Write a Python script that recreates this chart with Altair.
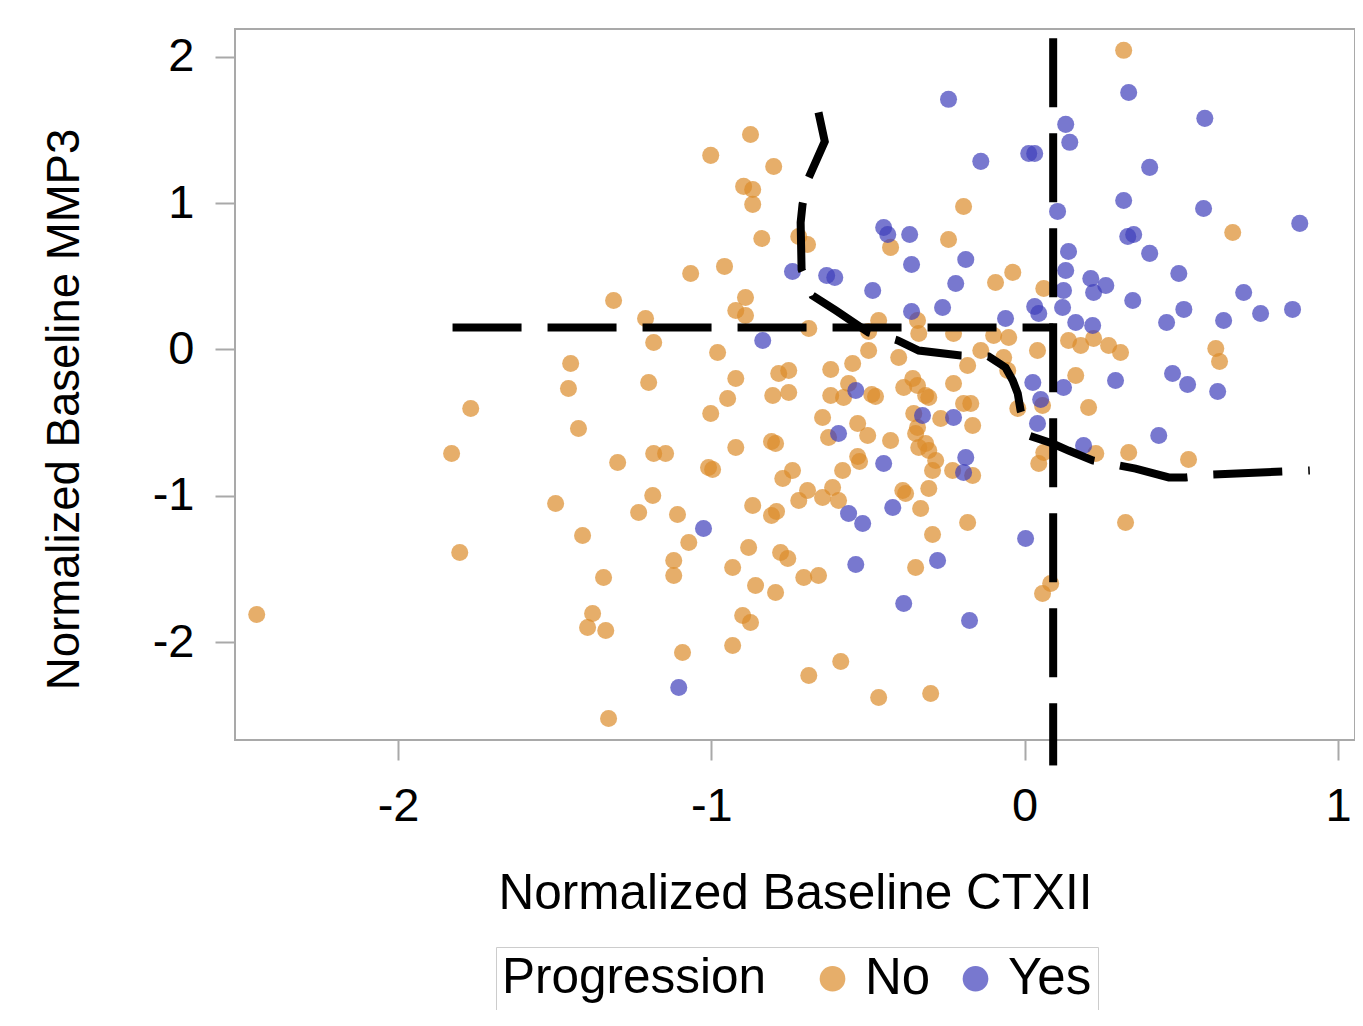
import altair as alt
import pandas as pd

# Progression = No (orange)
no_x = [-2.451, -1.829, -1.768, -1.803, -0.875, -1.002, -0.801, -0.897, -0.868, -0.868,
        -0.839, -0.721, -0.693, -0.958, -1.066, -1.312, -0.891, -0.922, -0.891, -1.210,
        -0.689, -1.184, -0.980, -1.449, -1.456, -1.200, -0.922, -0.785, -0.753, -0.804,
        -0.753, -0.619, -0.619, -0.948, -1.002, -1.424, -0.645, -0.626, -0.922, -0.808,
        -0.795, -1.184, -1.146, -1.299, -1.009, -0.996, -0.741, -0.772, -0.693, -0.721,
        -0.645, -0.613, -1.187, -1.497, -1.232, -1.108, -0.868, -0.808, -0.792, -1.411,
        -1.072, -1.120, -1.120, -1.344, -1.379, -1.395, -1.337, -0.881, -0.932, -0.779,
        -0.756, -0.859, -0.795, -0.705, -0.658, -0.900, -0.875, -0.932, -1.092, -0.689,
        -0.587, -1.328, 0.316, -0.195, -0.243, -0.428, -0.038, -0.093, 0.061, -0.466,
        -0.498, -0.342, -0.338, -0.227, -0.099, -0.051, -0.498, -0.402, -0.549, -0.140,
        -0.182, -0.067, -0.054, 0.041, -0.562, -0.578, -0.488, -0.476, -0.386, -0.357,
        -0.342, -0.316, -0.306, -0.227, -0.195, -0.172, -0.022, 0.057, -0.354, -0.342,
        -0.268, -0.166, -0.533, -0.501, -0.428, -0.348, -0.338, -0.316, -0.306, -0.533,
        -0.527, -0.581, -0.284, -0.294, -0.230, -0.166, -0.389, -0.380, -0.306, -0.332,
        -0.594, 0.045, 0.061, 0.140, 0.179, 0.220, 0.268, 0.306, 0.163, 0.204,
        0.227, 0.332, -0.182, -0.294, -0.348, 0.083, 0.057, 0.322, -0.466, -0.300,
        0.664, 0.610, 0.622, 0.523]
no_y = [-1.812, -0.711, -0.403, -1.388, 1.470, 1.327, 1.251, 1.115, 1.094, 0.992,
        0.759, 0.773, 0.718, 0.568, 0.520, 0.335, 0.356, 0.267, 0.232, 0.212,
        0.144, 0.048, -0.021, -0.096, -0.267, -0.226, -0.198, -0.164, -0.144, -0.315,
        -0.294, -0.137, -0.315, -0.335, -0.438, -0.540, -0.465, -0.602, -0.670, -0.629,
        -0.643, -0.711, -0.711, -0.773, -0.807, -0.821, -0.827, -0.882, -0.964, -1.033,
        -1.012, -0.944, -0.998, -1.053, -1.115, -1.128, -1.067, -1.135, -1.108, -1.272,
        -1.320, -1.443, -1.545, -1.559, -1.805, -1.901, -1.922, -1.354, -1.491, -1.388,
        -1.429, -1.614, -1.662, -1.559, -1.545, -1.819, -1.867, -2.024, -2.072, -2.229,
        -2.133, -2.523, 2.045, 0.978, 0.752, 0.698, 0.527, 0.458, 0.417, 0.198,
        0.123, 0.198, 0.109, 0.109, 0.096, 0.082, -0.007, -0.055, -0.096, -0.007,
        -0.109, -0.055, -0.144, -0.007, -0.233, -0.328, -0.308, -0.321, -0.260, -0.198,
        -0.246, -0.315, -0.328, -0.233, -0.369, -0.369, -0.403, -0.383, -0.438, -0.533,
        -0.472, -0.520, -0.506, -0.588, -0.622, -0.574, -0.670, -0.643, -0.691, -0.732,
        -0.766, -0.827, -0.759, -0.827, -0.827, -0.862, -0.964, -0.985, -0.950, -1.087,
        -1.033, -0.780, -0.704, 0.062, 0.027, 0.075, 0.027, -0.021, -0.178, -0.397,
        -0.711, -0.704, -1.183, -1.265, -1.491, -1.600, -1.669, -1.183, -2.380, -2.352,
        0.800, 0.007, -0.082, -0.752]

# Progression = Yes (blue)
yes_x = [-0.836, -0.741, -0.632, -0.606, -1.025, -1.104, -0.243, -0.140, 0.013, 0.032,
         0.131, 0.144, 0.332, 0.316, 0.105, 0.329, 0.348, -0.450, -0.437, -0.367,
         -0.361, -0.188, 0.140, 0.131, 0.575, 0.399, 0.571, 0.878, 0.399, 0.492,
         0.699, 0.345, 0.508, 0.453, 0.635, 0.753, 0.855, 0.472, 0.520, 0.616,
         0.428, -0.485, -0.220, -0.361, -0.262, -0.061, 0.032, 0.045, 0.124, 0.121,
         0.211, 0.220, 0.259, 0.163, 0.217, 0.026, 0.051, 0.041, 0.124, 0.290,
         0.188, -0.539, -0.326, -0.227, -0.594, -0.450, -0.188, -0.195, -0.421, -0.562,
         -0.517, 0.003, -0.278, -0.539, -0.386, -0.176]
yes_y = [0.062, 0.533, 0.506, 0.492, -1.224, -2.311, 1.710, 1.286, 1.340, 1.340,
         1.539, 1.416, 1.757, 1.019, 0.944, 0.773, 0.786, 0.834, 0.786, 0.786,
         0.581, 0.615, 0.670, 0.540, 1.580, 1.245, 0.964, 0.862, 0.657, 0.520,
         0.390, 0.335, 0.274, 0.185, 0.198, 0.246, 0.274, -0.164, -0.239, -0.287,
         -0.588, 0.403, 0.451, 0.260, 0.287, 0.212, 0.294, 0.246, 0.403, 0.287,
         0.485, 0.390, 0.438, 0.185, 0.164, -0.226, -0.342, -0.506, -0.260, -0.212,
         -0.656, -0.280, -0.451, -0.465, -0.574, -0.780, -0.738, -0.841, -1.080, -1.121,
         -1.190, -1.292, -1.443, -1.470, -1.737, -1.853]

# Cut-off lines and boundary curve
cut_x = 0.091
cut_y = 0.150
vline_y = [2.127, -2.844]
hline_x = [-1.826, 0.091]
curve_x = [-0.658, -0.638, -0.689, -0.709, -0.715, -0.712, -0.677, -0.603, -0.498, -0.405,
           -0.338, -0.204, -0.115, -0.061, -0.038, -0.022, -0.013, 0.013, 0.089, 0.140,
           0.217, 0.354, 0.460, 0.514, 0.600, 0.910]
curve_y = [1.621, 1.422, 1.176, 0.991, 0.868, 0.547, 0.369, 0.267, 0.116, 0.062,
           -0.007, -0.041, -0.048, -0.123, -0.212, -0.301, -0.417, -0.588, -0.643, -0.691,
           -0.759, -0.814, -0.875, -0.875, -0.855, -0.827]

x_ticks = [-2, -1, 0, 1]
y_ticks = [-2, -1, 0, 1, 2]
x_domain = [-2.5203, 1.0543]
y_domain = [-2.67, 2.191]

FONT = "Liberation Sans"

pts = pd.DataFrame({
    "x": no_x + yes_x,
    "y": no_y + yes_y,
    "Progression": ["No"] * len(no_x) + ["Yes"] * len(yes_x),
})
vdf = pd.DataFrame({"x": [cut_x], "y": [vline_y[0]], "y2": [vline_y[1]]})
hdf = pd.DataFrame({"x": [hline_x[0]], "x2": [hline_x[1]], "y": [cut_y]})
cdf = pd.DataFrame({"x": curve_x, "y": curve_y, "i": list(range(len(curve_x)))})

xs = alt.Scale(domain=x_domain, nice=False, zero=False)
ys = alt.Scale(domain=y_domain, nice=False, zero=False)

points = alt.Chart(pts).mark_circle(size=290, opacity=0.7).encode(
    x=alt.X("x:Q", scale=xs, title="Normalized Baseline CTXII",
            axis=alt.Axis(values=x_ticks, labelExpr="datum.value + ''",
                          labelPadding=23, titlePadding=40, titleFontSize=49.5)),
    y=alt.Y("y:Q", scale=ys, title="Normalized Baseline MMP3",
            axis=alt.Axis(values=y_ticks, labelExpr="datum.value + ''",
                          labelPadding=21, titlePadding=64, titleFontSize=45.5,
                          titleY=380)),
    color=alt.Color("Progression:N",
                    scale=alt.Scale(domain=["No", "Yes"], range=["#DB8B2B", "#3E3EBB"]),
                    legend=alt.Legend(orient="none", legendX=261, legendY=918,
                                      direction="horizontal", titleOrient="left",
                                      title="Progression", symbolType="circle",
                                      symbolSize=660, symbolOpacity=0.7, symbolStrokeWidth=0,
                                      labelFont=FONT, labelFontSize=51, titleFont=FONT,
                                      titleFontSize=49.5, titleFontWeight="normal",
                                      titleColor="black", labelColor="black",
                                      titleLimit=600, labelLimit=300,
                                      titlePadding=40, labelOffset=7, columnPadding=19,
                                      padding=6, strokeColor="#CCCCCC",
                                      titleBaseline="middle")),
)

vrule = alt.Chart(vdf).mark_rule(color="black", strokeWidth=8, strokeDash=[69, 26]).encode(
    x=alt.X("x:Q", scale=xs), y=alt.Y("y:Q", scale=ys), y2="y2:Q")
hrule = alt.Chart(hdf).mark_rule(color="black", strokeWidth=8, strokeDash=[69, 26]).encode(
    x=alt.X("x:Q", scale=xs), x2="x2:Q", y=alt.Y("y:Q", scale=ys))
curve = alt.Chart(cdf).mark_line(color="black", strokeWidth=8, strokeDash=[69, 26]).encode(
    x=alt.X("x:Q", scale=xs), y=alt.Y("y:Q", scale=ys), order="i:Q")

chart = alt.layer(points, vrule, hrule, curve).properties(
    width=1120, height=711,
    autosize=alt.AutoSizeParams(type="none"),
    padding={"left": 227, "top": 21, "right": 0, "bottom": 270},
).configure_view(
    stroke="#A9A9A9", strokeWidth=2
).configure_axis(
    domain=False, grid=False, tickColor="#A9A9A9", tickWidth=2, tickSize=20,
    labelFont=FONT, labelFontSize=47, labelColor="black",
    titleFont=FONT, titleFontSize=48, titleFontWeight="normal", titleColor="black",
)

chart.save("out.html", embed_options={"renderer": "svg", "actions": False})
